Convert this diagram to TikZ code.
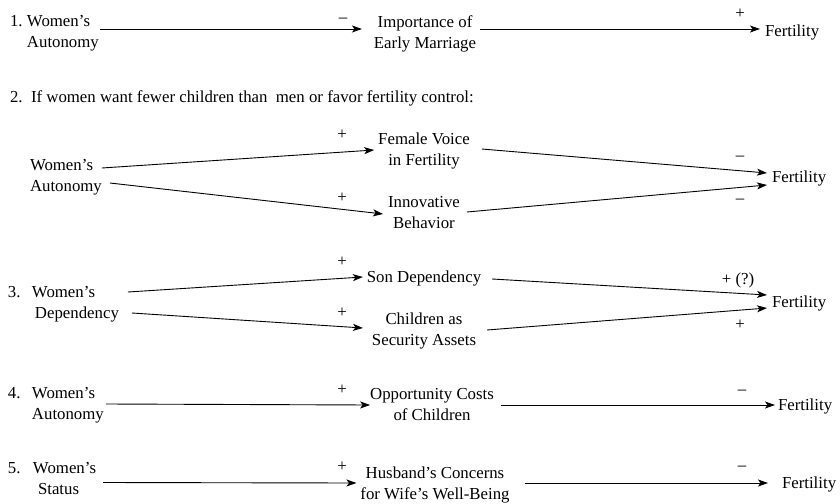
\documentclass[tikz,border=0pt]{standalone}
\usepackage{fontspec}
\setmainfont{Liberation Serif}
\usetikzlibrary{arrows.meta,calc}

\tikzset{
  txt/.style={inner sep=0pt, outer sep=0pt, font=\fontsize{16.8}{21}\selectfont},
  left/.style={txt, anchor=west, align=left},
  mid/.style={txt, align=center},
  fert/.style={txt, anchor=west},
  sgn/.style={txt},
  arr/.style={line width=0.9pt, -{Stealth[length=10pt,width=7pt,inset=2.5pt]}}
}

\begin{document}
\begin{tikzpicture}[x=1pt,y=-1pt]
\useasboundingbox (0,0) rectangle (840,503);

% ---------- 1 ----------
\node[left] (l1) at (10,33.5) {\makebox[17pt][l]{1.}Women's\\\hspace*{17pt}Autonomy};
\node[mid]  (m1) at (425,33.5) {Importance of\\Early Marriage};
\node[fert] (f1) at (765,32) {Fertility};
\draw[arr] ($(l1.east)+(1,-4.5)$) -- ($(m1.west)+(-12,-4.5)$);
\draw[arr] ($(m1.east)+(4,-4.5)$) -- ($(f1.west)+(-5,-3)$);
\node[sgn] (s1a) at (343,20) {\textendash};
\node[sgn] (s1b) at (740,14) {+};

% ---------- 2 ----------
\node[left] (h2) at (10,98) {2.\ \ If women want fewer children than\ \ men or favor fertility control:};
\node[left] (l2)  at (30,177.5) {Women's\\Autonomy};
\node[mid]  (m2a) at (424,150.5) {Female Voice\\in Fertility};
\node[mid]  (m2b) at (424,212.5) {Innovative\\Behavior};
\node[fert] (f2)  at (772,178.5) {Fertility};
\draw[arr] ($(l2.east)+(0,-9.5)$) -- ($(m2a.west)+(-4,-0.5)$);
\draw[arr] ($(l2.east)+(8,5.5)$) -- ($(m2b.west)+(-5,1.5)$);
\draw[arr] ($(m2a.east)+(12,-1.5)$) -- ($(f2.west)+(-5,-5.5)$);
\draw[arr] ($(m2b.east)+(7,-0.5)$) -- ($(f2.west)+(-5,6.5)$);
\node[sgn] (s2a) at (342,135) {+};
\node[sgn] (s2b) at (342,198) {+};
\node[sgn] (s2c) at (740,158) {\textendash};
\node[sgn] (s2d) at (740,201) {\textendash};

% ---------- 3 ----------
\node[left] (l3)  at (8,304) {\makebox[24pt][l]{3.}Women's\\\hspace*{27pt}Dependency};
\node[mid]  (m3a) at (424,278.5) {Son Dependency};
\node[mid]  (m3b) at (424,330.5) {Children as\\Security Assets};
\node[fert] (f3)  at (772,303.5) {Fertility};
\draw[arr] ($(l3.east)+(9,-12)$) -- ($(m3a.west)+(-4,-1.5)$);
\draw[arr] ($(l3.east)+(13,9)$) -- ($(m3b.west)+(-9,-2.5)$);
\draw[arr] ($(m3a.east)+(11,0.5)$) -- ($(f3.west)+(-5,-8.5)$);
\draw[arr] ($(m3b.east)+(11,-0.5)$) -- ($(f3.west)+(-5,4.5)$);
\node[sgn] (s3a) at (342,262) {+};
\node[sgn] (s3b) at (342,313) {+};
\node[sgn] (s3c) at (738,280) {+ (?)};
\node[sgn] (s3d) at (740,325) {+};

% ---------- 4 ----------
\node[left] (l4) at (8,405) {\makebox[24pt][l]{4.}Women's\\\hspace*{24pt}Autonomy};
\node[mid]  (m4) at (432,404.5) {Opportunity Costs\\of Children};
\node[fert] (f4) at (778,406) {Fertility};
\draw[arr] ($(l4.east)+(2,-1)$) -- ($(m4.west)+(0,0.5)$);
\draw[arr] ($(m4.east)+(7,0.5)$) -- ($(f4.west)+(-3,-1)$);
\node[sgn] (s4a) at (342,390) {+};
\node[sgn] (s4b) at (742,392) {\textendash};

% ---------- 5 ----------
\node[left] (l5) at (8,478.5) {\makebox[25pt][l]{5.}Women's\\\hspace*{30pt}Status};
\node[mid]  (m5) at (435,484.5) {Husband's Concerns\\for Wife's Well-Being};
\node[fert] (f5) at (782,484) {Fertility};
\draw[arr] ($(l5.east)+(7,4)$) -- ($(m5.west)+(-4,-1.5)$);
\draw[arr] ($(m5.east)+(15,-1.5)$) -- ($(f5.west)+(-14,-1)$);
\node[sgn] (s5a) at (342,467) {+};
\node[sgn] (s5b) at (742,468) {\textendash};
\end{tikzpicture}
\end{document}
